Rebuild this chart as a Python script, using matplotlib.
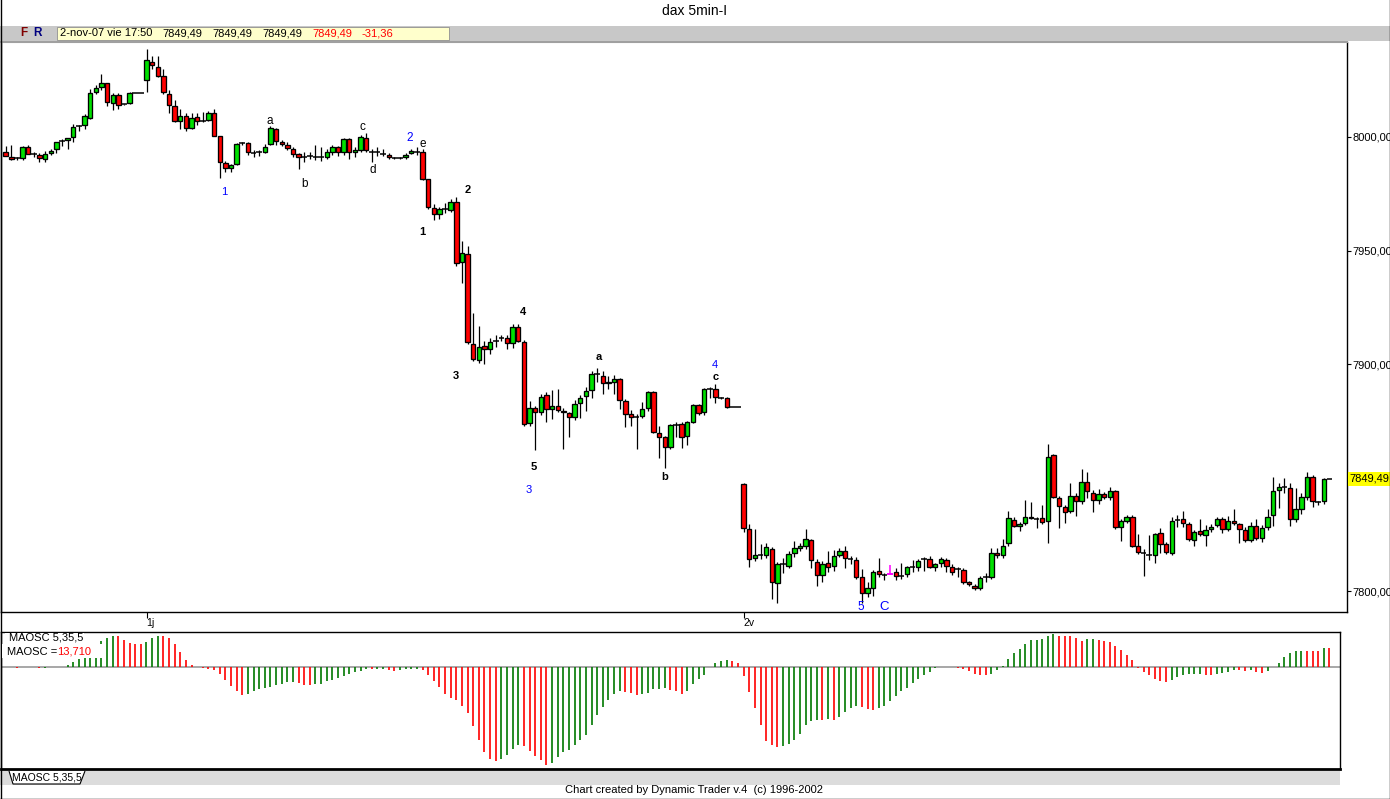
import numpy as np
import matplotlib
matplotlib.use('Agg')
import matplotlib.pyplot as plt
from matplotlib.patches import Rectangle, Polygon
from matplotlib import transforms

plt.rcParams['font.family'] = ['Liberation Sans', 'DejaVu Sans']

# ---------------- data (5-min DAX bars, 31-oct .. 2-nov-07) ----------------
opens = [7993.3, 7991.0, 7990.6, 7990.6, 7995.5, 7992.4, 7991.9, 7990.3, 7992.8, 7994.6,
         7998.4, 7998.7, 7999.9, 8004.5, 8005.2, 8008.2, 8019.7, 8021.9, 8023.7, 8014.8,
         8018.4, 8014.2, 8014.8, 8019.3, 8019.3, 8025.0, 8032.9, 8030.7, 8026.7, 8018.8,
         8013.7, 8006.9, 8009.2, 8003.8, 8008.7, 8006.9, 8007.4, 8010.6, 8000.3, 7988.4,
         7986.2, 7988.0, 7997.3, 7997.5, 7992.8, 7993.0, 7993.5, 7996.8, 8003.4, 7997.6,
         7996.3, 7994.6, 7992.4, 7991.1, 7991.4, 7991.3, 7991.1, 7991.1, 7993.5, 7995.5,
         7993.5, 7999.0, 7993.3, 7994.1, 7999.4, 7993.5, 7993.3, 7992.8, 7992.0, 7990.8,
         7990.6, 7991.1, 7993.1, 7993.5, 7993.3, 7981.4, 7968.9, 7966.0, 7968.2, 7967.8,
         7971.4, 7944.8, 7948.5, 7908.7, 7901.6, 7907.8, 7906.6, 7910.1, 7911.2, 7911.4,
         7909.1, 7916.2, 7909.6, 7873.9, 7880.5, 7878.9, 7886.4, 7880.1, 7881.7, 7879.5,
         7878.3, 7876.5, 7882.8, 7885.9, 7888.5, 7895.5, 7894.8, 7891.5, 7892.2, 7893.4,
         7883.8, 7877.9, 7877.0, 7877.1, 7880.5, 7887.6, 7869.5, 7867.7, 7863.3, 7873.0,
         7873.5, 7868.4, 7874.6, 7881.9, 7878.7, 7888.9, 7888.9, 7885.0, 7884.9, 7880.85,
         7880.85, 7847.0, 7827.2, 7814.4, 7815.9, 7815.9, 7818.4, 7803.7, 7811.8, 7811.2,
         7816.6, 7818.8, 7819.8, 7822.4, 7812.9, 7806.9, 7812.5, 7811.2, 7815.9, 7817.6,
         7814.2, 7813.6, 7806.0, 7799.3, 7801.5, 7808.8, 7807.2, 7807.5, 7808.3, 7806.8,
         7807.4, 7810.5, 7810.4, 7813.8, 7814.0, 7810.4, 7812.2, 7813.7, 7810.7, 7809.4,
         7809.3, 7803.8, 7802.4, 7801.2, 7805.8, 7806.0, 7816.6, 7815.7, 7821.0, 7831.1,
         7828.6, 7829.8, 7832.8, 7831.7, 7832.0, 7830.9, 7859.8, 7841.1, 7836.9, 7835.1,
         7842.0, 7839.5, 7848.2, 7843.3, 7840.0, 7842.6, 7841.4, 7843.9, 7828.3, 7831.0,
         7832.8, 7820.0, 7816.8, 7816.0, 7815.7, 7825.5, 7820.6, 7816.6, 7831.0, 7831.6,
         7829.4, 7822.5, 7826.4, 7824.6, 7827.2, 7829.1, 7831.6, 7827.2, 7830.7, 7829.4,
         7826.8, 7822.4, 7828.8, 7823.3, 7828.1, 7833.3, 7844.4, 7845.5, 7845.2, 7831.6,
         7836.3, 7841.6, 7850.4, 7839.3, 7839.5, 7849.49]

highs = [7996.0, 7996.5, 7991.0, 7996.0, 7996.5, 7993.5, 7993.0, 7993.7, 7994.7, 7998.0,
         7998.9, 7999.5, 8005.6, 8005.2, 8010.1, 8021.0, 8022.8, 8027.9, 8024.0, 8019.3,
         8019.3, 8014.6, 8020.0, 8019.3, 8019.3, 8038.8, 8035.7, 8035.7, 8029.8, 8020.7,
         8016.2, 8012.3, 8010.5, 8010.7, 8010.5, 8011.2, 8011.5, 8012.3, 8000.6, 7989.3,
         7988.0, 7997.5, 7998.0, 7998.0, 7994.3, 7994.3, 7997.0, 8005.0, 8004.0, 7998.5,
         7998.0, 7995.5, 7993.0, 7993.5, 7993.5, 7996.5, 7995.5, 7994.5, 7996.5, 7996.0,
         7999.5, 7999.5, 7995.5, 8000.9, 8001.6, 7994.5, 7995.5, 7994.5, 7992.8, 7991.0,
         7991.0, 7993.0, 7994.5, 7995.5, 7994.5, 7981.5, 7970.5, 7969.0, 7970.8, 7972.5,
         7973.7, 7954.2, 7952.0, 7922.6, 7916.7, 7910.1, 7911.4, 7912.8, 7912.7, 7912.8,
         7917.5, 7917.5, 7910.5, 7883.9, 7881.5, 7887.0, 7887.6, 7888.5, 7889.0, 7880.5,
         7879.0, 7884.0, 7886.5, 7889.8, 7897.1, 7898.2, 7896.7, 7894.5, 7895.0, 7894.0,
         7884.5, 7879.7, 7878.0, 7883.4, 7888.0, 7888.0, 7872.5, 7868.5, 7873.5, 7874.5,
         7874.5, 7875.0, 7882.5, 7882.5, 7889.5, 7890.0, 7891.2, 7885.5, 7885.5, 7880.85,
         7880.85, 7847.5, 7829.5, 7827.2, 7820.5, 7821.0, 7819.5, 7812.9, 7814.5, 7817.5,
         7822.2, 7821.0, 7827.2, 7823.0, 7814.0, 7813.0, 7817.6, 7818.0, 7819.0, 7820.0,
         7815.5, 7815.0, 7809.7, 7803.8, 7809.3, 7814.4, 7808.0, 7811.5, 7810.0, 7812.2,
         7811.0, 7813.5, 7814.0, 7815.0, 7815.5, 7812.5, 7815.0, 7814.5, 7812.0, 7810.7,
         7810.0, 7804.5, 7803.0, 7806.5, 7808.0, 7818.8, 7818.8, 7822.8, 7835.2, 7832.5,
         7830.5, 7840.1, 7839.4, 7832.5, 7837.9, 7864.8, 7860.5, 7842.0, 7838.0, 7847.5,
         7843.0, 7853.6, 7852.6, 7844.5, 7845.0, 7843.5, 7846.0, 7844.5, 7831.5, 7833.5,
         7833.5, 7825.1, 7818.5, 7824.5, 7825.7, 7827.7, 7821.5, 7832.8, 7833.5, 7835.2,
         7830.5, 7827.0, 7831.7, 7829.0, 7829.5, 7832.5, 7832.5, 7833.0, 7836.3, 7830.0,
         7828.0, 7830.5, 7831.5, 7829.0, 7836.3, 7850.1, 7847.5, 7849.7, 7847.5, 7845.2,
         7843.0, 7852.5, 7851.1, 7839.8, 7850.0, 7849.49]

lows = [7991.5, 7990.0, 7990.0, 7989.9, 7992.4, 7991.0, 7988.9, 7988.9, 7992.0, 7993.0,
        7996.0, 7994.6, 7997.8, 8002.8, 8003.7, 8008.0, 8018.8, 8020.7, 8013.6, 8011.8,
        8012.5, 8014.0, 8014.5, 8019.3, 8019.3, 8019.7, 8029.8, 8026.5, 8019.0, 8010.4,
        8006.5, 8003.7, 8002.5, 8003.4, 8005.2, 8006.5, 8007.0, 8000.3, 7981.8, 7984.5,
        7984.5, 7987.5, 7996.5, 7992.0, 7991.3, 7991.8, 7993.0, 7996.5, 7996.5, 7996.0,
        7994.3, 7991.3, 7985.8, 7989.1, 7990.5, 7990.0, 7989.5, 7990.5, 7992.0, 7991.8,
        7992.0, 7990.2, 7991.0, 7993.5, 7993.5, 7989.1, 7991.5, 7991.5, 7990.5, 7990.4,
        7990.3, 7990.5, 7992.5, 7992.0, 7981.0, 7968.5, 7963.4, 7963.8, 7966.4, 7967.0,
        7943.2, 7935.8, 7909.0, 7901.5, 7900.6, 7899.9, 7904.4, 7907.6, 7910.3, 7906.5,
        7907.0, 7909.5, 7872.5, 7872.5, 7862.1, 7877.5, 7874.4, 7875.6, 7879.0, 7862.4,
        7868.0, 7875.5, 7876.0, 7879.5, 7885.2, 7892.2, 7886.7, 7889.0, 7887.0, 7880.0,
        7872.1, 7872.8, 7862.4, 7876.0, 7879.5, 7869.5, 7858.4, 7854.1, 7862.5, 7868.0,
        7862.9, 7864.3, 7874.0, 7877.5, 7877.5, 7885.0, 7883.0, 7884.5, 7880.5, 7880.85,
        7880.85, 7826.0, 7810.7, 7813.4, 7814.0, 7814.5, 7796.5, 7794.6, 7808.0, 7810.0,
        7815.0, 7817.5, 7818.5, 7810.3, 7802.4, 7804.0, 7808.5, 7809.0, 7815.0, 7810.1,
        7812.0, 7805.5, 7794.6, 7797.5, 7797.6, 7806.0, 7805.0, 7807.2, 7805.0, 7805.5,
        7806.0, 7808.5, 7809.0, 7809.0, 7810.0, 7809.0, 7810.5, 7808.5, 7807.0, 7806.0,
        7803.0, 7802.0, 7800.5, 7800.5, 7804.0, 7805.5, 7814.7, 7814.5, 7820.0, 7828.0,
        7826.5, 7829.0, 7831.5, 7827.7, 7829.5, 7821.0, 7841.0, 7827.7, 7830.1, 7834.5,
        7833.0, 7838.5, 7840.8, 7835.0, 7838.5, 7840.5, 7840.0, 7827.5, 7822.0, 7830.0,
        7819.5, 7816.5, 7806.8, 7813.8, 7812.5, 7816.9, 7816.5, 7816.0, 7828.4, 7828.1,
        7822.0, 7820.0, 7824.2, 7820.0, 7826.0, 7828.0, 7825.5, 7826.5, 7829.0, 7821.3,
        7821.5, 7821.5, 7822.5, 7821.5, 7827.0, 7828.6, 7836.7, 7843.3, 7828.8, 7830.5,
        7834.0, 7840.0, 7837.2, 7837.8, 7838.5, 7849.49]

closes = [7991.5, 7990.3, 7990.6, 7995.5, 7992.4, 7992.4, 7990.7, 7992.4, 7993.7, 7997.7,
          7998.4, 7999.4, 8004.3, 8004.7, 8009.4, 8019.3, 8021.5, 8023.7, 8015.3, 8018.4,
          8014.0, 8014.4, 8019.3, 8019.3, 8019.3, 8033.8, 8031.6, 8026.9, 8019.7, 8014.0,
          8006.9, 8009.2, 8003.8, 8008.3, 8006.9, 8006.9, 8010.4, 8000.6, 7988.9, 7986.2,
          7987.8, 7996.8, 7997.5, 7993.3, 7992.8, 7993.3, 7995.8, 8003.8, 7998.1, 7996.8,
          7995.0, 7992.4, 7991.1, 7991.1, 7991.6, 7991.3, 7991.1, 7993.3, 7995.5, 7993.5,
          7999.0, 7993.3, 7994.3, 7999.9, 7994.3, 7993.5, 7993.5, 7992.6, 7991.1, 7990.6,
          7990.6, 7992.0, 7993.7, 7993.5, 7981.5, 7969.0, 7966.1, 7968.2, 7968.2, 7971.4,
          7944.4, 7948.8, 7909.8, 7902.1, 7907.6, 7906.6, 7909.6, 7910.3, 7911.4, 7909.1,
          7916.2, 7910.3, 7873.5, 7880.5, 7878.9, 7885.6, 7880.1, 7881.7, 7879.7, 7879.0,
          7876.5, 7882.3, 7885.0, 7888.1, 7895.5, 7895.5, 7891.5, 7892.0, 7893.4, 7884.1,
          7877.9, 7876.8, 7876.8, 7880.1, 7887.6, 7870.2, 7868.0, 7863.3, 7873.1, 7873.1,
          7868.0, 7874.4, 7881.9, 7878.5, 7888.9, 7888.9, 7885.6, 7884.9, 7881.2, 7880.85,
          7880.85, 7827.6, 7814.0, 7815.9, 7815.9, 7819.3, 7804.1, 7811.8, 7811.8, 7816.2,
          7818.8, 7819.8, 7822.8, 7813.6, 7806.9, 7811.8, 7810.7, 7815.2, 7817.6, 7814.4,
          7814.0, 7806.3, 7799.3, 7801.2, 7808.3, 7807.4, 7807.1, 7807.5, 7806.8, 7806.8,
          7810.7, 7810.7, 7813.4, 7814.0, 7810.4, 7811.8, 7814.0, 7811.2, 7808.5, 7809.6,
          7803.8, 7802.9, 7801.2, 7805.6, 7806.0, 7816.6, 7815.7, 7820.0, 7832.0, 7828.6,
          7829.4, 7832.8, 7832.0, 7831.7, 7830.3, 7858.9, 7841.4, 7837.5, 7834.7, 7842.0,
          7839.5, 7848.2, 7844.1, 7840.0, 7842.6, 7841.4, 7843.9, 7828.3, 7830.7, 7832.8,
          7820.0, 7817.1, 7816.6, 7815.9, 7825.0, 7820.6, 7817.1, 7830.7, 7831.3, 7829.8,
          7822.8, 7825.9, 7825.0, 7826.8, 7828.4, 7831.6, 7827.2, 7830.7, 7829.8, 7827.2,
          7822.4, 7828.8, 7823.3, 7827.9, 7832.8, 7844.1, 7845.7, 7845.7, 7831.6, 7836.3,
          7841.3, 7850.4, 7839.5, 7839.1, 7849.5, 7849.49]

maosc = [0.2, 0.1, -0.3, 0.1, 0.0, -0.1, -0.4, -0.2, 0.0, 0.2,
         0.5, 1.9, 3.8, 6.0, 8.1, 11.5, 15.1, 19.1, 21.1, 22.7,
         22.3, 19.4, 17.5, 17.0, 16.8, 17.9, 21.1, 22.7, 22.5, 21.1,
         17.0, 11.0, 5.3, 1.9, -0.1, -0.7, -1.0, -1.7, -4.5, -8.9,
         -13.2, -16.8, -19.6, -18.9, -17.2, -15.6, -14.8, -14.1, -12.9, -11.7,
         -10.6, -10.4, -11.5, -12.4, -12.5, -12.3, -11.7, -10.1, -8.9, -7.7,
         -6.0, -4.5, -3.4, -2.4, -1.2, -1.3, -1.1, -1.0, -1.7, -2.4,
         -1.7, -1.6, -1.5, -1.2, -1.7, -5.3, -9.6, -14.1, -19.1, -22.0,
         -23.2, -27.5, -32.8, -41.9, -52.2, -60.8, -65.6, -67.5, -65.6, -62.7,
         -58.4, -55.5, -56.2, -59.8, -63.4, -66.3, -69.9, -68.4, -64.1, -60.5,
         -59.1, -55.5, -52.2, -48.3, -41.2, -34.0, -28.2, -23.2, -18.9, -16.8,
         -17.5, -18.4, -19.6, -19.5, -18.2, -15.6, -15.3, -15.2, -16.3, -17.2,
         -18.9, -16.8, -11.7, -8.1, -5.3, 0.2, 3.1, 4.5, 5.3, 4.5,
         3.4, -6.0, -17.9, -29.2, -41.2, -52.6, -56.0, -57.0, -56.2, -54.8,
         -51.9, -47.6, -41.2, -38.3, -37.6, -37.7, -36.9, -37.6, -35.4, -31.8,
         -29.2, -28.0, -28.3, -29.7, -30.4, -29.2, -27.5, -23.9, -20.3, -16.8,
         -14.8, -11.2, -8.1, -5.3, -3.1, -0.5, 0.1, 0.2, 0.0, -0.5,
         -1.2, -2.4, -4.5, -5.3, -5.4, -4.5, -1.7, 1.0, 6.0, 10.3,
         13.2, 16.8, 19.4, 19.9, 20.0, 22.2, 24.1, 22.7, 22.6, 22.5,
         21.0, 19.0, 20.2, 20.3, 19.8, 19.0, 17.8, 14.9, 12.1, 8.9,
         5.3, -0.2, -3.1, -5.5, -8.4, -9.6, -10.4, -9.2, -7.2, -5.5,
         -4.8, -4.7, -4.6, -5.5, -5.6, -5.1, -3.9, -3.1, -1.9, -2.0,
         -2.4, -1.9, -3.1, -3.9, -2.4, 0.2, 3.4, 7.7, 10.1, 11.8,
         11.9, 11.7, 11.6, 11.5, 13.8, 13.71]

marker_bar = 158                    # magenta time marker bar
day_ticks = [26, 132]
day_labels = ['1j', '2v']
price_ticks = [7800, 7900, 7950, 8000]
last_price = 7849.49
last_change = -31.36
osc_last = 13.710
info_date = '2-nov-07 vie 17:50'

# wave labels: (text, bar position, price, colour, bold, size)
wave_labels = [
    ('1', 39.8, 7975.8, '#0000FF', False, 8),
    ('a', 47.9, 8007.0, 'black', False, 8.5),
    ('b', 54.0, 7979.3, 'black', False, 8.5),
    ('c', 64.3, 8004.4, 'black', False, 8.5),
    ('d', 66.2, 7985.5, 'black', False, 8.5),
    ('2', 72.8, 7999.6, '#0000FF', False, 8.5),
    ('e', 75.1, 7996.9, 'black', False, 8.5),
    ('1', 74.9, 7958.1, 'black', True, 8),
    ('2', 83.1, 7976.7, 'black', True, 8),
    ('3', 80.9, 7894.7, 'black', True, 8),
    ('4', 92.8, 7922.9, 'black', True, 8),
    ('5', 94.8, 7854.6, 'black', True, 8),
    ('a', 106.2, 7903.1, 'black', True, 8),
    ('b', 118.0, 7850.2, 'black', True, 8),
    ('c', 127.1, 7894.3, 'black', True, 8),
    ('3', 93.9, 7844.5, '#0000FF', False, 8),
    ('4', 126.9, 7899.6, '#0000FF', False, 8),
    ('5', 152.8, 7793.0, '#0000FF', False, 8.5),
    ('C', 156.9, 7793.0, '#0000FF', False, 9.5),
]

# ---------------- layout helpers ----------------
W, H = 1390, 799
fig = plt.figure(figsize=(W / 100, H / 100), dpi=100)
fig.patch.set_facecolor('white')


def frect(x0, y0, x1, y1):
    return [x0 / W, 1 - y1 / H, (x1 - x0) / W, (y1 - y0) / H]


def fpatch(x0, y0, x1, y1, **kw):
    r = Rectangle((x0 / W, 1 - y1 / H), (x1 - x0) / W, (y1 - y0) / H,
                  transform=fig.transFigure, **kw)
    fig.add_artist(r)
    return r


def ftext(x, y, s, **kw):
    return fig.text(x / W, 1 - y / H, s, **kw)


# ---------------- header ----------------
ftext(695, 11, 'dax 5min-I', ha='center', va='center', fontsize=10)
fpatch(0, 26, W, 41, facecolor='#C8C8C8', edgecolor='none')
fpatch(57, 27, 449, 40, facecolor='#FFFFCC', edgecolor='#909090', linewidth=0.6)
ftext(24, 33.5, 'F', ha='center', va='center', fontsize=8.5, fontweight='bold', color='#800000')
ftext(37, 33.5, 'R', ha='center', va='center', fontsize=8.5, fontweight='bold', color='#000080')
fmt = lambda v: f'{v:.2f}'.replace('.', ',')
ftext(60, 33.5, info_date, ha='left', va='center', fontsize=8)
for xx in [162, 212, 262]:
    ftext(xx, 33.5, fmt(last_price), ha='left', va='center', fontsize=8)
ftext(312, 33.5, fmt(last_price), ha='left', va='center', fontsize=8, color='red')
ftext(362, 33.5, fmt(last_change), ha='left', va='center', fontsize=8, color='red')

# ---------------- price panel ----------------
N = len(closes)
x = np.arange(1, N + 1)
o = np.array(opens); h = np.array(highs); l = np.array(lows); c = np.array(closes)

ax = fig.add_axes(frect(1, 42, 1347, 612))
ax.set_xlim(0.171, 239.11)
ax.set_ylim(7790.75, 8041.85)

is_mark = x == marker_bar
ax.vlines(x[~is_mark], l[~is_mark], h[~is_mark], color='black', lw=0.9, zorder=2)
ax.vlines(x[is_mark], l[is_mark], h[is_mark], color='#FF00FF', lw=1.1, zorder=2)

doji = np.abs(c - o) < 0.35
body = ~doji
cols = np.where(c > o, '#00E000', '#FF0000')
ax.bar(x[body], (c - o)[body], bottom=o[body], width=0.78, color=cols[body],
       edgecolor='black', linewidth=0.95, zorder=3)
dj = doji & ~is_mark
ax.hlines(c[dj], x[dj] - 0.5, x[dj] + 0.5, color='black', lw=1.1, zorder=3)
ax.hlines(c[is_mark], x[is_mark] - 0.6, x[is_mark] + 0.6, color='#FF00FF', lw=1.4, zorder=3)

for txt, bx, py, col, bold, fs in wave_labels:
    ax.text(bx, py, txt, ha='center', va='center', color=col, fontsize=fs,
            fontweight='bold' if bold else 'normal', zorder=5)

ax.yaxis.tick_right()
ax.set_yticks(price_ticks)
ax.set_yticklabels([fmt(v) for v in price_ticks])
ax.tick_params(axis='y', direction='out', length=3, width=0.8, pad=1, labelsize=8)
ax.set_xticks(day_ticks)
ax.set_xticklabels(day_labels, ha='left')
ax.tick_params(axis='x', direction='out', length=4, width=0.8, pad=0, labelsize=7.5)
for s in ['left', 'right', 'bottom']:
    ax.spines[s].set_color('black'); ax.spines[s].set_linewidth(1.0)
ax.spines['top'].set_color('#A0A0A0'); ax.spines['top'].set_linewidth(1.5)

# last-price label on the axis
btr = transforms.blended_transform_factory(fig.transFigure, ax.transData)
ax.add_patch(Rectangle((1347.5 / W, last_price - 3.1), (W - 1347.5) / W, 6.2,
                       transform=btr, facecolor='#FFFF00', edgecolor='none',
                       clip_on=False, zorder=6))
ax.text(1349.5 / W, last_price, fmt(last_price), transform=btr, ha='left', va='center',
        fontsize=8, zorder=7, clip_on=False)

# ---------------- oscillator panel ----------------
ax2 = fig.add_axes(frect(1, 632, 1340, 769))
ax2.set_xlim(0.171, 237.87)
ax2.set_ylim(-73.0, 25.3)
v = np.array(maosc)
up = np.concatenate([[True], v[1:] > v[:-1]])
ocol = np.where(up, '#007800', '#FF0000')
ax2.axhline(0, color='#A0A0A0', lw=1.3, zorder=1)
ax2.vlines(x, 0, v, colors=ocol, lw=1.2, zorder=2)
ax2.set_xticks([]); ax2.set_yticks([])
for s in ax2.spines.values():
    s.set_color('black'); s.set_linewidth(1.0)
ax2.spines['bottom'].set_linewidth(2.0)

fpatch(5, 632.5, 84, 644, facecolor='white', edgecolor='none', zorder=5)
fpatch(2, 644, 103, 658, facecolor='white', edgecolor='none', zorder=5)
ftext(9, 638, 'MAOSC 5,35,5', ha='left', va='center', fontsize=8, zorder=6)
ftext(7, 652, 'MAOSC = ', ha='left', va='center', fontsize=8, zorder=6)
ftext(57, 652, f'{osc_last:.3f}'.replace('.', ','), ha='left', va='center',
      fontsize=8, color='red', zorder=6)

# ---------------- tab strip / footer ----------------
fpatch(0, 771, 1340, 785, facecolor='#DCDCDC', edgecolor='none')
tab = Polygon([(9 / W, 1 - 771 / H), (13 / W, 1 - 784 / H), (80 / W, 1 - 784 / H),
               (85 / W, 1 - 771 / H)], closed=False, transform=fig.transFigure,
              facecolor='white', edgecolor='black', linewidth=0.8)
fig.add_artist(tab)
ftext(47, 777.5, 'MAOSC 5,35,5', ha='center', va='center', fontsize=7.5)
ftext(694, 790, 'Chart created by Dynamic Trader v.4  (c) 1996-2002', ha='center',
      va='center', fontsize=8)

# window border
fig.add_artist(plt.Line2D([0.5 / W, 0.5 / W], [0, 1], transform=fig.transFigure, color='black', lw=1))
fig.add_artist(plt.Line2D([1 - 0.5 / W] * 2, [0, 1], transform=fig.transFigure, color='black', lw=1))
fig.add_artist(plt.Line2D([0, 1], [0.5 / H, 0.5 / H], transform=fig.transFigure, color='black', lw=1))

fig.savefig('out.png', dpi=100)
